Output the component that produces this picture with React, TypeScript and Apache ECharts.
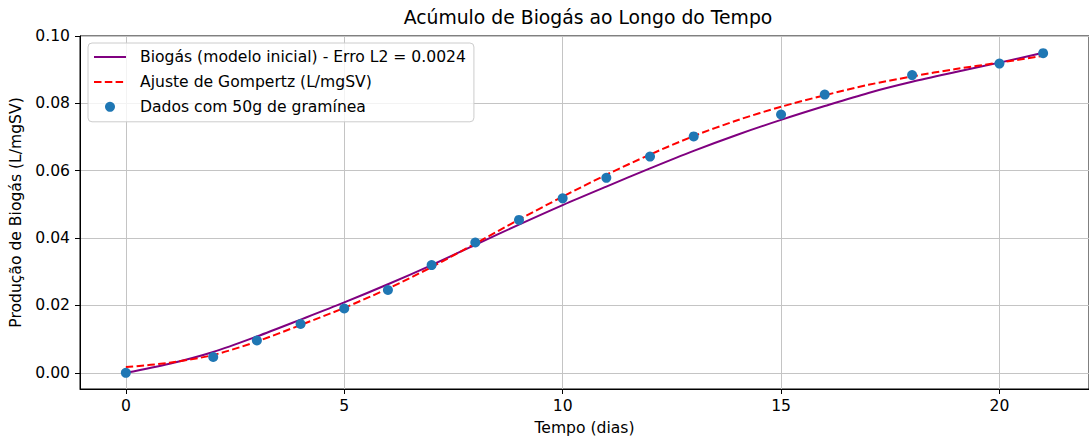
import { useEffect, useRef } from "react";
import * as echarts from "echarts";

// Curve sample days
const days = [0, 1, 2, 3, 4, 5, 6, 7, 8, 9, 10, 11, 12, 13, 14, 15, 16, 17, 18, 19, 20, 21];
// Biogás (modelo inicial)
const modelValues = [
  0.0, 0.0027, 0.0062, 0.0108, 0.0158, 0.0209, 0.0263, 0.032, 0.038, 0.044, 0.0498,
  0.0553, 0.0607, 0.0659, 0.0707, 0.0751, 0.0792, 0.0831, 0.0864, 0.0893, 0.0921, 0.095,
];
// Ajuste de Gompertz
const gompertzValues = [
  0.0017, 0.003, 0.0053, 0.0093, 0.0142, 0.0193, 0.025, 0.0314, 0.0384, 0.0455, 0.0523,
  0.0588, 0.0648, 0.0703, 0.075, 0.079, 0.0824, 0.0855, 0.088, 0.0902, 0.0921, 0.0941,
];
// Measured data
const dataDays = [0, 2, 3, 4, 5, 6, 7, 8, 9, 10, 11, 12, 13, 15, 16, 18, 20, 21];
const dataValues = [
  0.0, 0.0047, 0.0096, 0.0145, 0.0191, 0.0246, 0.032, 0.0387, 0.0454, 0.0518, 0.0579,
  0.0642, 0.0702, 0.0767, 0.0826, 0.0884, 0.0918, 0.0949,
];
const xTicks = [0, 5, 10, 15, 20];
const yTicks = [0, 0.02, 0.04, 0.06, 0.08, 0.1];

const seriesNames = [
  "Biogás (modelo inicial) - Erro L2 = 0.0024",
  "Ajuste de Gompertz (L/mgSV)",
  "Dados com 50g de gramínea",
];

const FONT = "DejaVu Sans";
const FS = 15.6;

export default function App() {
  const ref = useRef<HTMLDivElement>(null);
  useEffect(() => {
    document.body.style.margin = "0";
    if (!ref.current) return;
    const chart = echarts.init(ref.current, null, { renderer: "svg" });
    const tickText = { fontFamily: FONT, fontSize: FS, color: "#000" };
    chart.setOption({
      animation: false,
      backgroundColor: "#fff",
      textStyle: { fontFamily: FONT },
      graphic: [
        {
          type: "text",
          x: 588,
          y: 8,
          style: {
            text: "Acúmulo de Biogás ao Longo do Tempo",
            textAlign: "center",
            fontFamily: FONT,
            fontSize: 18.8,
            fill: "#000",
          },
        },
      ],
      grid: {
        left: 80,
        top: 36,
        width: 1016,
        height: 354,
        show: true,
        borderColor: "#000",
        borderWidth: 1,
        backgroundColor: "transparent",
      },
      legend: {
        orient: "vertical",
        left: 88,
        top: 43,
        padding: [6, 8, 7, 5],
        itemWidth: 32,
        itemHeight: 10,
        itemGap: 8.9,
        backgroundColor: "rgba(255,255,255,0.8)",
        borderColor: "#cccccc",
        borderWidth: 1,
        borderRadius: 4,
        textStyle: { fontFamily: FONT, fontSize: FS, color: "#000", padding: [0, 0, 0, 9] },
        data: [
          { name: seriesNames[0], itemStyle: { opacity: 0 } },
          { name: seriesNames[1], itemStyle: { opacity: 0 } },
          { name: seriesNames[2] },
        ],
      },
      xAxis: {
        type: "value",
        min: -1.05,
        max: 22.05,
        name: "Tempo (dias)",
        nameLocation: "middle",
        nameGap: 31,
        nameTextStyle: { fontFamily: FONT, fontSize: FS, color: "#000" },
        axisLine: { show: true, onZero: false, lineStyle: { color: "#000", width: 1 } },
        axisTick: { show: true, length: 5, customValues: xTicks, lineStyle: { color: "#000" } },
        axisLabel: { ...tickText, margin: 9, customValues: xTicks, formatter: (v: number) => String(v) },
        splitLine: { show: true, lineStyle: { color: "#c4c4c4", width: 1 } },
      },
      yAxis: {
        type: "value",
        min: -0.0048,
        max: 0.1,
        name: "Produção de Biogás (L/mgSV)",
        nameLocation: "middle",
        nameGap: 53,
        nameTextStyle: { fontFamily: FONT, fontSize: FS, color: "#000" },
        axisLine: { show: true, onZero: false, lineStyle: { color: "#000", width: 1 } },
        axisTick: { show: true, length: 5, customValues: yTicks, lineStyle: { color: "#000" } },
        axisLabel: {
          ...tickText,
          margin: 10,
          customValues: yTicks,
          formatter: (v: number) => v.toFixed(2),
        },
        splitLine: { show: true, lineStyle: { color: "#c4c4c4", width: 1 } },
      },
      series: [
        {
          name: seriesNames[0],
          type: "line",
          smooth: 0.3,
          symbol: "none",
          data: days.map((d, i) => [d, modelValues[i]]),
          lineStyle: { color: "#800080", width: 2 },
          itemStyle: { color: "#800080" },
          z: 3,
        },
        {
          name: seriesNames[1],
          type: "line",
          smooth: 0.3,
          symbol: "none",
          data: days.map((d, i) => [d, gompertzValues[i]]),
          lineStyle: { color: "#ff0000", width: 2, type: [7.5, 3.3] },
          itemStyle: { color: "#ff0000" },
          z: 4,
        },
        {
          name: seriesNames[2],
          type: "scatter",
          symbol: "circle",
          symbolSize: 10,
          data: dataDays.map((d, i) => [d, dataValues[i]]),
          itemStyle: { color: "#1f77b4", opacity: 1 },
          z: 5,
        },
      ],
    });
    return () => chart.dispose();
  }, []);
  return <div ref={ref} style={{ width: 1089, height: 441 }} />;
}
